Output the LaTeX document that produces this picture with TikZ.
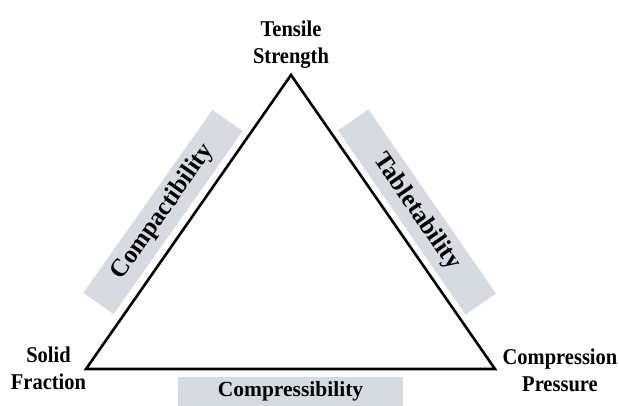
\documentclass[tikz,border=0pt]{standalone}
\usepackage{fontspec}
\setmainfont{Liberation Serif}
\usepackage{tikz}
\usetikzlibrary{positioning}
\definecolor{boxgray}{RGB}{214,219,226}
\tikzset{
  corner_label/.style = {align=center, inner sep=0pt, text centered,
    yscale=1.1, transform shape,
    font=\fontsize{20.5}{24.5}\selectfont\bfseries},
  side_box/.style = {rectangle, fill=boxgray, inner sep=0pt,
    minimum width=224pt, minimum height=37pt,
    font=\fontsize{25}{27}\selectfont\bfseries},
  base_box/.style = {side_box, minimum width=225pt, minimum height=29pt,
    font=\fontsize{21.5}{27}\selectfont\bfseries}
}
\begin{document}
\begin{tikzpicture}[x=1pt, y=-1pt]
  \useasboundingbox (0,0) rectangle (619,406);
  % corners of the triangle
  \coordinate (ts) at (291,75);
  \coordinate (sf) at (86,369);
  \coordinate (cp) at (495,369);
  % grey boxes along the sides
  \node [side_box, rotate=54.8] (compact) at (163,212) {Compactibility};
  \node [side_box, rotate=-55.3] (tablet) at (417,212) {Tabletability};
  \node [base_box] (compress) at (290.5,391.5) {Compressibility};
  \draw [line width=2.6pt, line join=miter] (ts) -- (cp) -- (sf) -- cycle;
  % labels at the corners
  \node [corner_label] (strength) at (291,45) {Tensile\\Strength};
  \node [corner_label] (fraction) at (48.5,368.5) {Solid\\Fraction};
  \node [corner_label] (pressure) at (560,370) {Compression\\Pressure};
\end{tikzpicture}
\end{document}
